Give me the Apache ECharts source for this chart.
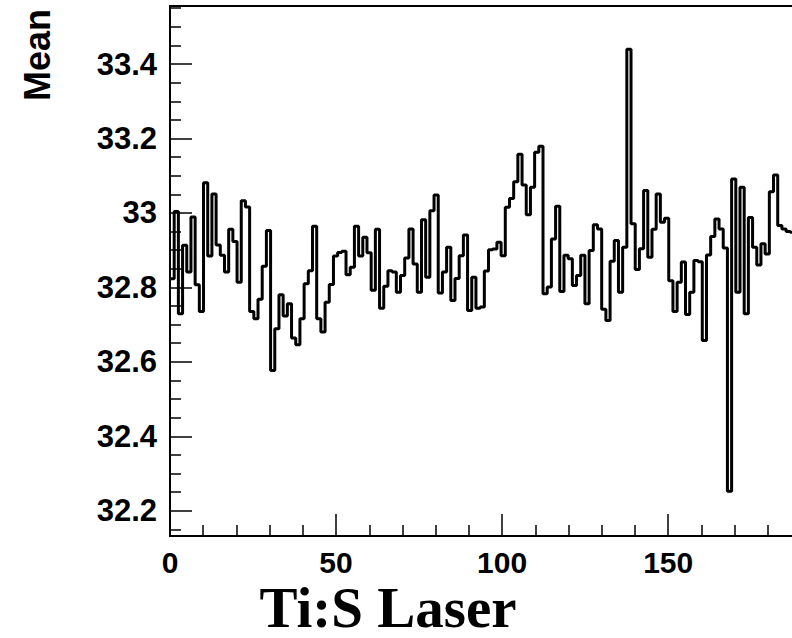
<!DOCTYPE html>
<html>
<head>
<meta charset="utf-8">
<script src="https://cdn.jsdelivr.net/npm/echarts@6/dist/echarts.min.js"></script>
<style>
  html, body { margin: 0; padding: 0; background: #fff; }
  #chart { width: 792px; height: 638px; }
</style>
</head>
<body>
<div id="chart"></div>
<script>
// ---- data ----
const yTitle = "Mean";
const xTitle = "Ti:S Laser";
const binStart = 0;
const binWidth = 1.262;
const binValues = [
  32.823, 33.004, 32.729, 32.913, 32.841, 32.989, 32.807, 32.735, 33.081, 32.884,
  33.051, 32.914, 32.886, 32.841, 32.956, 32.923, 32.814, 33.033, 33.016, 32.735,
  32.716, 32.768, 32.857, 32.953, 32.577, 32.689, 32.780, 32.723, 32.756, 32.664,
  32.646, 32.716, 32.810, 32.845, 32.964, 32.716, 32.680, 32.760, 32.808, 32.884,
  32.894, 32.897, 32.834, 32.854, 32.964, 32.884, 32.935, 32.893, 32.792, 32.956,
  32.744, 32.803, 32.845, 32.841, 32.787, 32.832, 32.879, 32.957, 32.863, 32.787,
  32.982, 32.827, 33.006, 33.048, 32.785, 32.841, 32.908, 32.765, 32.824, 32.885,
  32.941, 32.738, 32.827, 32.744, 32.747, 32.844, 32.901, 32.903, 32.921, 32.885,
  33.015, 33.039, 33.084, 33.158, 33.075, 32.995, 33.069, 33.163, 33.179, 32.783,
  32.801, 32.930, 33.018, 32.789, 32.886, 32.877, 32.805, 32.832, 32.886, 32.756,
  32.899, 32.968, 32.957, 32.741, 32.711, 32.870, 32.926, 32.787, 32.908, 33.440,
  32.971, 32.848, 32.904, 33.060, 32.881, 32.956, 33.051, 32.975, 32.986, 32.818,
  32.735, 32.814, 32.868, 32.727, 32.787, 32.872, 32.869, 32.657, 32.887, 32.937,
  32.984, 32.957, 32.906, 32.252, 33.091, 32.787, 33.069, 32.729, 32.988, 32.908,
  32.860, 32.917, 32.890, 33.057, 33.102, 32.966, 32.957, 32.950, 32.948
];
const xRange = [0, 190];
const xMajorStep = 50;
const yRange = [32.132, 33.556];

// ---- build step outline from bin edges ----
const stepPoints = binValues.map((v, i) => [binStart + i * binWidth, v]);
stepPoints.push([binStart + binValues.length * binWidth, binValues[binValues.length - 1]]);

const chart = echarts.init(document.getElementById('chart'), null, { renderer: 'svg' });
const fontFamily = 'Liberation Sans, Arial, sans-serif';

chart.setOption({
  animation: false,
  backgroundColor: '#fff',
  grid: {
    left: 170, top: 6, width: 631, height: 530,
    outerBoundsMode: 'none', containLabel: false,
    show: true, borderColor: '#000', borderWidth: 2, backgroundColor: 'transparent'
  },
  xAxis: {
    type: 'value', min: xRange[0], max: xRange[1], interval: xMajorStep,
    axisLine: { show: true, lineStyle: { color: '#000', width: 2 } },
    axisTick: { show: true, inside: true, length: 22, lineStyle: { color: '#000', width: 1.5 } },
    minorTick: { show: true, splitNumber: 5, length: 11, lineStyle: { color: '#000', width: 1.5 } },
    splitLine: { show: false },
    axisLabel: { margin: 11, showMaxLabel: false, fontSize: 30, fontFamily: fontFamily, fontWeight: 'bold', color: '#000' }
  },
  yAxis: {
    type: 'value', min: yRange[0], max: yRange[1], splitNumber: 7,
    axisLine: { show: true, lineStyle: { color: '#000', width: 2 } },
    axisTick: { show: true, inside: true, length: 22, lineStyle: { color: '#000', width: 1.5 } },
    minorTick: { show: true, splitNumber: 4, length: 11, lineStyle: { color: '#000', width: 1.5 } },
    splitLine: { show: false },
    axisLabel: { margin: 13, showMinLabel: false, showMaxLabel: false, fontSize: 31, fontFamily: fontFamily, fontWeight: 'bold', color: '#000' }
  },
  series: [{
    type: 'line',
    step: 'end',
    data: stepPoints,
    symbol: 'none',
    clip: true,
    lineStyle: { color: '#000', width: 3 }
  }],
  graphic: [
    {
      type: 'text', x: 37, y: 55, rotation: Math.PI / 2,
      style: { text: yTitle, font: 'bold 36px "Liberation Sans", Arial, sans-serif', fill: '#000', align: 'center', verticalAlign: 'middle' }
    },
    {
      type: 'text', x: 388, y: 636,
      style: { text: xTitle, font: 'bold 57px "Liberation Serif", "Times New Roman", serif', fill: '#000', align: 'center', verticalAlign: 'bottom' }
    }
  ]
});
</script>
</body>
</html>
